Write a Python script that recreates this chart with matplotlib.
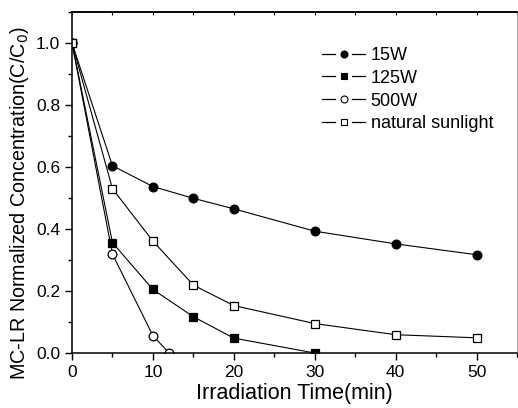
import matplotlib
matplotlib.use("Agg")
import matplotlib.pyplot as plt
from matplotlib.ticker import MultipleLocator
from matplotlib.legend_handler import HandlerBase
from matplotlib.lines import Line2D

plt.rcParams['font.family'] = ['Liberation Sans', 'DejaVu Sans']

# irradiation time (min)
t_15w = [0, 5, 10, 15, 20, 30, 40, 50]
c_15w = [1.0, 0.604, 0.537, 0.499, 0.465, 0.393, 0.352, 0.317]

t_125w = [0, 5, 10, 15, 20, 30]
c_125w = [1.0, 0.356, 0.205, 0.117, 0.048, 0.0]

t_500w = [0, 5, 10, 12]
c_500w = [1.0, 0.319, 0.056, 0.0]

t_sun = [0, 5, 10, 15, 20, 30, 40, 50]
c_sun = [1.0, 0.53, 0.361, 0.219, 0.153, 0.095, 0.059, 0.049]

labels = ['15W', '125W', '500W', 'natural sunlight']


class GapHandler(HandlerBase):
    # origin style legend entry: line - marker - line with small gaps
    def create_artists(self, legend, orig, xd, yd, w, h, fontsize, trans):
        y = h / 2 - yd
        x0 = -xd
        gap = 0.2 * w
        l1 = Line2D([x0, x0 + w / 2 - gap], [y, y], color='black', lw=0.9)
        l2 = Line2D([x0 + w / 2 + gap, x0 + w], [y, y], color='black', lw=0.9)
        m = Line2D([x0 + w / 2], [y], ls='none', marker=orig.get_marker(),
                   ms=5, mfc=orig.get_markerfacecolor(), mec='black', mew=0.8)
        for a in (l1, l2, m):
            a.set_transform(trans)
        return [l1, l2, m]


fig = plt.figure(figsize=(5.18, 4.08), dpi=100)
ax = fig.add_axes([72/518, 55/408, 445/518, 341/408])

kw = dict(color='black', lw=0.8, ms=6.3, markeredgewidth=0.9)
ax.plot(t_15w, c_15w, marker='o', mfc='black', label=labels[0], **kw)
ax.plot(t_125w, c_125w, marker='s', mfc='black', label=labels[1], **kw)
ax.plot(t_500w, c_500w, marker='o', mfc='white', label=labels[2], **kw)
ax.plot(t_sun, c_sun, marker='s', mfc='white', label=labels[3], **kw)

ax.set_xlim(0, 55)
ax.set_ylim(0, 1.1)
ax.xaxis.set_major_locator(MultipleLocator(10))
ax.xaxis.set_minor_locator(MultipleLocator(5))
ax.yaxis.set_major_locator(MultipleLocator(0.2))
ax.yaxis.set_minor_locator(MultipleLocator(0.1))
ax.tick_params(which='major', direction='out', length=5, width=1, labelsize=12.5)
ax.tick_params(which='minor', direction='out', length=3, width=1)
# tiny marks on the top edge
ax2 = ax.secondary_xaxis('top')
ax2.xaxis.set_major_locator(MultipleLocator(10))
ax2.xaxis.set_minor_locator(MultipleLocator(5))
ax2.tick_params(which='both', direction='in', length=2, width=0.8, labeltop=False)
for s in ['left', 'bottom', 'top']:
    ax.spines[s].set_linewidth(1.1)
ax2.spines['top'].set_linewidth(1.1)
ax.spines['right'].set_linewidth(0.6)
ax.spines['right'].set_color('#999999')

ax.set_xlabel('Irradiation Time(min)', fontsize=15.5, labelpad=2)
ax.set_ylabel('MC-LR Normalized Concentration(C/C$_0$)', fontsize=14.2)
ax.yaxis.set_label_coords(-0.092, 0.441)

handles, lbls = ax.get_legend_handles_labels()
ax.legend(handles, lbls, loc='upper left', bbox_to_anchor=(0.525, 0.945),
          frameon=False, fontsize=13, handlelength=2.4, handletextpad=0.3,
          labelspacing=0.32, handler_map={Line2D: GapHandler()})

fig.savefig('out.png', dpi=100)
